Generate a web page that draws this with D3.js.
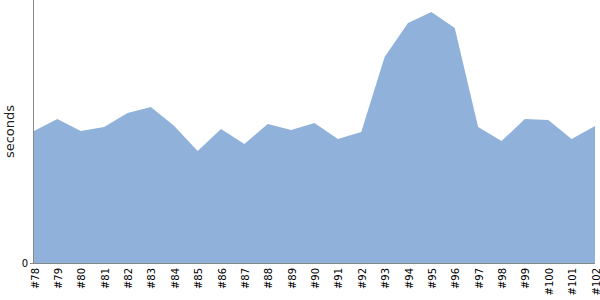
<!DOCTYPE html>
<html><head><meta charset="utf-8">
<script src="https://cdn.jsdelivr.net/npm/d3@7"></script>
<style>body{margin:0;background:#fff}svg{display:block}</style>
</head><body>
<svg id="c" width="600" height="300"></svg>
<script>
const builds = ["#78","#79","#80","#81","#82","#83","#84","#85","#86","#87","#88","#89","#90","#91","#92","#93","#94","#95","#96","#97","#98","#99","#100","#101","#102"];
const seconds = [13.2,14.4,13.2,13.6,15.0,15.6,13.7,11.2,13.4,11.9,13.9,13.3,14.0,12.4,13.1,20.6,24.0,25.1,23.5,13.6,12.2,14.4,14.3,12.4,13.7];
const yTicks = [0];
const yLabel = "seconds";

const svg = d3.select("#c");
const m = {left:34, right:5, top:0, bottom:37};
const W = 600, H = 300;
const x = d3.scalePoint().domain(builds).range([m.left, W - m.right]);
const y = d3.scaleLinear().domain([0, 26.3]).range([H - m.bottom, m.top]);
const data = builds.map((b,i)=>({b, v:seconds[i]}));

svg.append("path").datum(data)
  .attr("fill","#8FB1DA")
  .attr("d", d3.area().x(d=>x(d.b)).y0(y(0)).y1(d=>y(d.v)));

const font = "DejaVu Sans, sans-serif";
const xa = svg.append("g").attr("transform",`translate(0,${y(0)})`)
  .call(d3.axisBottom(x).tickSize(0).tickPadding(0));
xa.select(".domain").attr("stroke","#888").attr("d",`M${m.left-1},0.5H${W-m.right}`);
xa.selectAll("text").attr("font-family",font).attr("font-size",10).attr("fill","#000")
  .attr("text-anchor","end").attr("dy",null)
  .attr("transform","translate(4,5) rotate(-90)");

const ya = svg.append("g").attr("transform",`translate(${m.left-1},0)`)
  .call(d3.axisLeft(y).tickValues(yTicks).tickSize(3).tickPadding(2));
ya.select(".domain").attr("stroke","#888").attr("d",`M0.5,${m.top}V${y(0)}`);
ya.selectAll(".tick line").attr("stroke","#888");
ya.selectAll("text").attr("font-family",font).attr("font-size",10).attr("fill","#000");

svg.append("text").attr("transform",`translate(14,${(m.top+y(0))/2}) rotate(-90)`)
  .attr("text-anchor","middle").attr("font-family",font).attr("font-size",13)
  .attr("fill","#222")
  .text(yLabel);
</script>
</body></html>
